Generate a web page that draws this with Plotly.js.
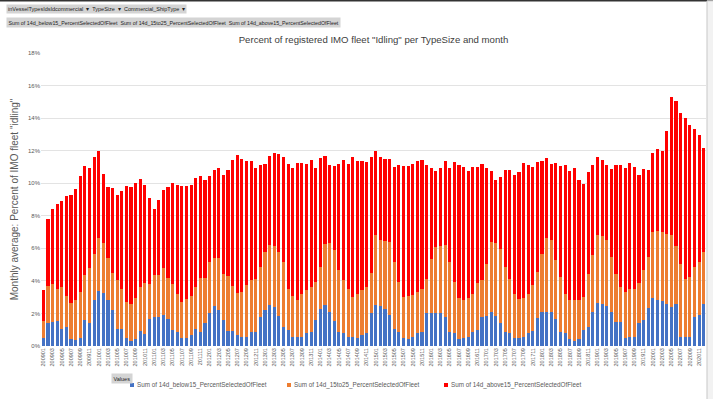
<!DOCTYPE html>
<html>
<head>
<meta charset="utf-8">
<script src="https://cdn.plot.ly/plotly-3.0.1.min.js"></script>
<style>
html,body{margin:0;padding:0;background:#fff;}
#chart{width:713px;height:399px;}
#chart .legendpoints path{d:path("M2,2H-2V-2H2Z") !important; translate:15px 0px;}
</style>
</head>
<body>
<div id="chart"></div>
<script>
var months = [
"200901","200902","200903","200904","200905","200906","200907","200908","200909","200910","200911","200912",
"201001","201002","201003","201004","201005","201006","201007","201008","201009","201010","201011","201012",
"201101","201102","201103","201104","201105","201106","201107","201108","201109","201110","201111","201112",
"201201","201202","201203","201204","201205","201206","201207","201208","201209","201210","201211","201212",
"201301","201302","201303","201304","201305","201306","201307","201308","201309","201310","201311","201312",
"201401","201402","201403","201404","201405","201406","201407","201408","201409","201410","201411","201412",
"201501","201502","201503","201504","201505","201506","201507","201508","201509","201510","201511","201512",
"201601","201602","201603","201604","201605","201606","201607","201608","201609","201610","201611","201612",
"201701","201702","201703","201704","201705","201706","201707","201708","201709","201710","201711","201712",
"201801","201802","201803","201804","201805","201806","201807","201808","201809","201810","201811","201812",
"201901","201902","201903","201904","201905","201906","201907","201908","201909","201910","201911","201912",
"202001","202002","202003","202004","202005","202006","202007","202008","202009","202010","202011","202012"];

var tickLabels = ["200901","200903","200905","200907","200909","200911","201001","201003","201005","201007","201009","201011",
"201101","201103","201105","201107","201109","201111","201201","201203","201205","201207","201209","201211",
"201301","201303","201305","201307","201309","201311","201401","201403","201405","201407","201409","201411",
"201501","201503","201505","201507","201509","201511","201601","201603","201605","201607","201609","201611",
"201701","201703","201705","201707","201709","201711","201801","201803","201805","201807","201809","201811",
"201901","201903","201905","201907","201909","201911","202001","202003","202005","202007","202009","202011"];

// 14d_below15 (blue)
var below15 = [0.51,1.39,1.47,1.53,1.06,1.14,0.40,0.37,0.47,1.59,1.39,2.82,
3.39,3.27,2.82,2.20,1.02,1.06,0.47,0.31,0.45,0.94,0.71,1.63,
1.76,1.76,1.88,1.67,0.98,0.84,0.51,0.51,0.65,1.06,0.84,1.43,
2.00,2.47,2.20,1.59,0.90,0.90,0.65,0.57,0.57,0.88,0.86,1.80,
2.20,2.50,2.40,1.84,1.18,0.98,0.53,0.53,0.53,0.82,0.88,1.59,
2.30,2.51,2.10,1.55,0.88,0.78,0.53,0.57,0.47,0.67,0.78,2.00,
2.51,2.45,2.30,1.90,1.02,0.88,0.47,0.41,0.53,0.78,0.88,2.00,
2.04,2.04,2.04,1.80,0.88,0.82,0.41,0.47,0.53,0.88,0.98,1.80,
1.84,2.10,1.84,1.39,0.88,0.78,0.51,0.47,0.57,0.78,0.92,1.70,
2.10,2.10,2.06,1.63,0.84,0.82,0.41,0.33,0.41,0.98,1.18,2.10,
2.65,2.60,2.45,2.06,1.45,1.45,0.47,0.53,0.53,1.39,1.59,2.31,
2.92,2.82,2.78,2.61,2.41,2.57,0.57,0.55,0.53,1.76,1.90,2.57];

// 14d_15to25 (orange)
var from15to25 = [1.02,2.28,2.33,2.00,2.54,1.92,2.25,2.43,2.86,2.76,3.41,2.81,
3.26,3.06,2.61,2.31,3.02,2.47,2.24,2.30,2.51,2.69,3.19,2.17,
2.63,2.63,2.90,2.51,2.80,2.34,2.20,2.39,2.41,2.57,3.36,2.77,
3.16,2.96,3.23,2.86,3.39,2.79,2.62,2.76,3.16,3.16,3.28,3.06,
3.58,3.68,3.72,3.94,3.98,2.55,2.55,2.29,2.69,2.61,2.75,2.35,
2.56,3.78,4.23,4.33,3.77,3.26,3.00,2.45,2.75,2.76,2.85,2.50,
4.29,4.04,4.13,4.49,4.14,3.06,2.55,2.65,2.59,2.55,2.65,2.14,
3.33,4.04,4.08,4.38,4.28,3.12,2.51,2.35,2.39,2.34,2.86,2.24,
3.22,4.29,4.49,4.59,3.98,3.36,2.71,2.39,2.35,2.44,2.81,2.85,
3.57,4.55,4.43,3.64,3.40,2.40,2.41,2.47,2.41,2.04,3.27,3.47,
4.15,4.15,4.04,3.41,3.00,2.18,2.86,3.00,3.00,2.45,3.06,3.16,
4.08,4.24,4.22,4.29,4.44,3.57,4.49,3.59,3.71,3.10,3.26,3.21];

// 14d_above15 (red)
var above15 = [1.90,4.13,4.60,5.17,5.30,6.14,6.65,6.87,7.14,6.69,6.14,6.00,
5.35,4.24,4.33,5.20,5.26,6.02,7.09,7.15,7.04,6.66,6.00,5.30,
4.04,4.55,4.79,5.60,6.26,6.70,7.11,6.94,6.86,6.70,6.27,6.00,
5.31,5.41,5.51,6.06,6.55,7.76,8.48,8.16,7.62,7.33,6.78,6.26,
5.40,5.51,5.72,6.02,6.47,7.65,7.86,8.40,8.02,7.73,7.80,7.00,
6.67,5.40,4.81,5.18,6.51,7.41,7.65,8.57,8.17,7.94,7.70,7.13,
5.16,5.11,5.07,5.11,5.82,7.20,8.04,8.00,8.08,8.06,7.90,6.96,
5.57,4.65,4.82,5.21,5.78,7.35,8.18,8.20,7.81,7.76,7.18,7.14,
5.88,4.39,3.87,4.39,5.96,6.68,7.29,7.81,8.35,7.90,7.25,6.76,
5.68,4.88,4.71,5.95,6.80,7.92,7.91,8.14,7.38,6.94,6.22,5.55,
4.79,4.68,4.63,5.41,6.67,7.49,7.61,7.69,7.49,6.69,6.23,5.35,
4.84,5.04,5.00,6.32,8.46,8.92,9.25,9.84,9.33,8.47,7.80,6.36];

var seriesNames = ["Sum of 14d_below15_PercentSelectedOfFleet","Sum of 14d_15to25_PercentSelectedOfFleet","Sum of 14d_above15_PercentSelectedOfFleet"];
var seriesColors = ["#4472C4","#ED7D31","#FF0000"];
var yTickVals = [0,2,4,6,8,10,12,14,16,18];

var legendIds = ["legend","legend2","legend3"];
var seriesData = [below15, from15to25, above15];
var traces = seriesData.map(function(vals, i){
  return {type:"bar", x:months, y:vals, name:seriesNames[i], marker:{color:seriesColors[i]}, legend:legendIds[i], hoverinfo:"x+y+name"};
});

var FONT = "Liberation Sans, Arial, sans-serif";
var btn = "#d4d4d4";
function legendAt(px){
  return {orientation:"h", xref:"container", yref:"container", x:px/713, y:1-385/399, xanchor:"left", yanchor:"middle",
          font:{size:6.3, color:"#595959", family:FONT}, itemwidth:30, bgcolor:"rgba(0,0,0,0)", borderwidth:0};
}
var layout = {
  width:713, height:399,
  margin:{l:41, r:7, t:53, b:53},
  barmode:"stack", bargap:0.32,
  paper_bgcolor:"#ffffff", plot_bgcolor:"#ffffff",
  font:{family:FONT, color:"#595959"},
  title:{text:'Percent of registered IMO fleet "Idling" per TypeSize and month', font:{size:9.6, color:"#404040", family:FONT}, x:0.5, xanchor:"center", xref:"paper", y:1-40/399, yref:"container", yanchor:"middle"},
  xaxis:{type:"category", tickmode:"array", tickvals:tickLabels, ticktext:tickLabels, tickangle:-90, tickfont:{size:5.5, color:"#595959"}, showgrid:false, showline:false, ticks:"", range:[-0.5, months.length-0.5], fixedrange:true, automargin:false},
  yaxis:{range:[0,18], tickvals:yTickVals, ticktext:yTickVals.map(function(v){return v+"%";}), tickfont:{size:6, color:"#595959"}, gridcolor:"#e3e3e3", gridwidth:1, zeroline:false, showline:false, ticks:"", ticklen:0, title:{text:'Monthly average: Percent of IMO fleet "idling"', font:{size:10, color:"#595959"}, standoff:7}, automargin:false},
  showlegend:true,
  legend:legendAt(97),
  legend2:legendAt(254),
  legend3:legendAt(411),
  shapes:[
    {type:"line", xref:"paper", yref:"paper", x0:-0.1, x1:1.02, y0:1.178, y1:1.178, line:{color:"#333333", width:1.5}},
    {type:"rect", xref:"paper", yref:"paper", x0:1.0015, x1:1.02, y0:-0.2, y1:1.178, fillcolor:"#f2f2f2", line:{color:"#c8c8c8", width:1}}
  ],
  annotations:[
    {xref:"paper", yref:"paper", x:-0.053, y:1.15, xanchor:"left", yanchor:"middle", showarrow:false, text:"inVesselTypesIdsIdcommercial  ▾  TypeSize  ▾  Commercial_ShipType  ▾", font:{size:5.5, color:"#222"}, bgcolor:btn, borderpad:1},
    {xref:"paper", yref:"paper", x:-0.053, y:1.105, xanchor:"left", yanchor:"middle", showarrow:false, text:"Sum of 14d_below15_PercentSelectedOfFleet  Sum of 14d_15to25_PercentSelectedOfFleet  Sum of 14d_above15_PercentSelectedOfFleet", font:{size:5.3, color:"#222"}, bgcolor:btn, borderpad:1.5},
    {xref:"paper", yref:"paper", x:0.105, y:-0.11, xanchor:"left", yanchor:"middle", showarrow:false, text:"Values", font:{size:5.5, color:"#222"}, bgcolor:btn, borderpad:1.5}
  ]
};

Plotly.newPlot("chart", traces, layout, {displayModeBar:false, staticPlot:true});
</script>
</body>
</html>
